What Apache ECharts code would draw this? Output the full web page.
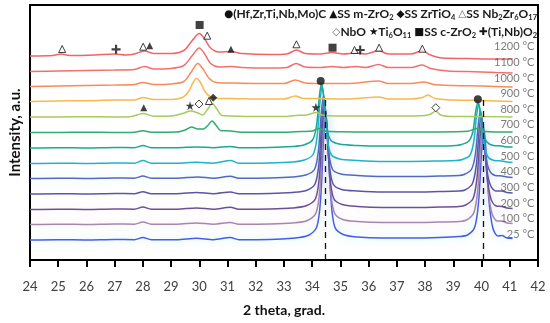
<!DOCTYPE html>
<html><head><meta charset="utf-8">
<script src="https://cdn.jsdelivr.net/npm/echarts@6/dist/echarts.min.js"></script>
<style>html,body{margin:0;padding:0;background:#fff}#c{width:550px;height:323px}</style>
</head><body><div id="c"></div>
<script>
// ---- data ----
const temps = ['25 °C','100 °C','200 °C','300 °C','400 °C','500 °C','600 °C','700 °C','800 °C','900 °C','1000 °C','1100 °C','1200 °C'];
const offsets = [20, 35.5, 50.5, 66, 81.5, 96.5, 112, 127.5, 143, 158.5, 173.5, 188.5, 204];
const xTicks = [24, 42, 1];

const trace25 = [[24,0],[25,0.3],[26,0],[27,0.5],[27.7,0.3],[28.0,2.5],[28.3,0.3],[29.2,0.3],[29.9,1.8],[30.5,0.3],[31.1,2.5],[31.4,0.3],[32.5,0.5],[33.3,1.8],[33.85,4.5],[34.16,13],[34.3,42],[34.4,100],[34.48,128],[34.56,100],[34.66,42],[34.8,13],[35.1,5.5],[35.6,3],[36.5,2],[37.5,2],[38.5,2.5],[39.2,3.5],[39.5,5],[39.76,13],[39.9,40],[40.0,88],[40.08,112],[40.16,88],[40.26,40],[40.4,12],[40.58,4],[40.72,4.5],[40.9,2],[41.1,1.5]];
const trace100 = [[24,0],[25,0.3],[26,0],[27,0.5],[27.7,0.3],[28.0,2.5],[28.3,0.3],[29.2,0.3],[29.9,1.5],[30.5,0.3],[31.1,2],[31.4,0.3],[32.5,0.5],[33.3,1.5],[33.83,4],[34.14,12],[34.28,38],[34.38,90],[34.46,116],[34.54,90],[34.64,38],[34.78,12],[35.08,5],[35.6,3],[36.5,2],[37.5,2],[38.5,2.5],[39.2,3],[39.47,4.5],[39.73,12],[39.87,36],[39.97,79],[40.05,100],[40.13,79],[40.23,36],[40.37,11],[40.55,3.5],[40.72,3.5],[40.9,1.5],[41.1,1]];
const trace200 = [[24,0],[25,0.3],[26,0],[27,0.5],[27.7,0.3],[28.0,2.5],[28.3,0.3],[29.2,0.3],[29.9,1.5],[30.5,0.3],[31.1,2.2],[31.4,0.3],[32.5,0.5],[33.3,1.5],[33.81,4],[34.12,11],[34.26,35],[34.36,82],[34.44,105],[34.52,82],[34.62,35],[34.76,11],[35.06,5],[35.6,3],[36.5,2],[37.5,2],[38.5,2.5],[39.2,3],[39.44,4.5],[39.7,11],[39.84,32],[39.94,70],[40.02,89],[40.1,70],[40.2,32],[40.34,10],[40.52,3.5],[40.72,3],[40.9,1.5],[41.1,1]];
const trace300 = [[24,0],[25,0.3],[26,0],[27,0.5],[27.7,0.3],[28.0,2.3],[28.3,0.3],[29.2,0.3],[29.9,1.5],[30.5,0.3],[31.1,2],[31.4,0.3],[32.5,0.5],[33.3,1.5],[33.79,3.5],[34.1,10],[34.24,31],[34.34,73],[34.42,94],[34.5,73],[34.6,31],[34.74,10],[35.04,4.5],[35.6,3],[36.5,2],[37.5,2],[38.5,2.5],[39.2,3],[39.41,4],[39.67,10],[39.81,28],[39.91,62],[39.99,79],[40.07,62],[40.17,28],[40.31,9],[40.5,3],[40.72,3],[40.9,1.5],[41.1,1]];
const trace400 = [[24,0],[25,0.3],[26,0],[27,0.5],[27.7,0.3],[28.0,2.5],[28.3,0.3],[29.2,0.3],[29.95,1.5],[30.5,0.3],[31.1,2.3],[31.4,0.3],[32.5,0.5],[33.3,1.5],[33.77,3.5],[34.08,9],[34.22,28],[34.32,65],[34.4,83],[34.48,65],[34.58,28],[34.72,9],[35.02,4.5],[35.6,3],[36.5,2],[37.5,2],[38.5,2.5],[39.2,3],[39.38,4],[39.64,9],[39.78,24],[39.88,53],[39.96,68],[40.04,53],[40.14,24],[40.28,8],[40.48,3],[40.72,2.5],[40.9,1.5],[41.1,1]];
const trace500 = [[24,0],[25,0.3],[26,0],[27,0.5],[27.7,0.3],[28.0,3],[28.3,0.3],[29.2,0.3],[29.9,1.2],[30.5,0.3],[31.1,3],[31.4,0.3],[32.5,0.5],[33.3,1.5],[33.72,3.5],[34.03,9],[34.17,26],[34.27,60],[34.35,77],[34.43,60],[34.53,26],[34.67,9],[34.97,4.5],[35.6,3],[36.5,2],[37.5,2],[38.5,2.5],[39.1,3],[39.32,4],[39.58,8],[39.72,21],[39.82,47],[39.9,60],[39.98,47],[40.08,21],[40.22,7],[40.45,3],[40.72,2.5],[40.9,1.5],[41.1,1]];
const trace600 = [[24,0],[25,0.3],[26,0],[27,0.5],[27.7,0.3],[28.0,2.5],[28.3,0.3],[29.2,0.3],[29.9,1],[30.5,0.3],[31.1,1.5],[31.4,0.3],[32.5,0.5],[33.3,1.5],[33.7,3],[34.01,8],[34.15,22],[34.25,51],[34.33,65],[34.41,51],[34.51,22],[34.65,8],[34.95,4],[35.6,2.5],[36.5,2],[37.5,2],[38.5,2],[39.1,2.5],[39.29,3.5],[39.55,7],[39.69,16],[39.79,36],[39.87,46],[39.95,36],[40.05,16],[40.19,6],[40.42,2.5],[40.72,2],[40.9,1],[41.1,1]];
const trace700 = [[24,0],[25,0],[26,0.3],[27,0],[27.7,0.3],[28.0,1.8],[28.3,0.3],[29.2,0.5],[29.5,2.5],[29.72,5.5],[29.95,3.5],[30.15,3.5],[30.3,7],[30.45,11.5],[30.6,7],[30.75,2],[31.1,1.5],[31.5,0.3],[33,0.3],[33.4,0.8],[34.0,1.5],[34.25,4],[34.45,1.5],[35,0.8],[36,0.5],[37,0.5],[38,0.5],[39.5,1.2],[39.85,4],[40.1,1],[41.1,0.5]];
const trace800 = [[24,0],[25,0],[26,0.3],[27,0],[27.6,0.5],[28.0,3.5],[28.4,0.8],[29.0,1],[29.4,3.5],[29.7,6],[29.95,4],[30.12,2],[30.3,8],[30.46,13.5],[30.62,8],[30.8,1.5],[31.1,1],[32,0.5],[33.0,0.5],[33.4,1.5],[33.8,2],[34.15,4.5],[34.35,2],[34.8,1],[36.0,1],[37.0,1],[38.0,1.5],[38.2,3],[38.38,6],[38.55,2],[39,0.5],[40.0,0.5],[41.1,0]];
const trace900 = [[24,0],[25,0.5],[26,0.8],[27,1.5],[27.7,1.5],[28.0,4],[28.4,2],[29.0,2],[29.4,4],[29.62,10],[29.78,19],[29.9,23],[30.02,20],[30.2,10],[30.4,4.5],[30.7,3],[31.1,3],[32,2.5],[33.0,2.5],[33.4,5.5],[33.7,3],[34.2,3],[35,2.5],[35.6,3],[36.35,4.5],[36.7,2.5],[37.5,2.5],[37.9,4],[38.1,6.5],[38.35,3],[39,1.5],[40,1],[41.1,0]];
const trace1000 = [[24,0],[25,0.5],[26,1],[27,1.5],[27.7,2],[28.0,4],[28.4,2],[29.0,2.5],[29.45,5],[29.7,14],[29.95,23],[30.12,18],[30.35,8],[30.6,4],[31.1,3.5],[32,3],[33.0,3],[33.4,6.5],[33.75,3.5],[34.3,3],[35,3],[35.6,3.5],[36.35,5.5],[36.7,3],[37.5,3],[37.95,4.5],[38.3,2],[39,1],[40,0.5],[41.1,-0.5]];
const trace1100 = [[24,0],[25,0.5],[26,1],[27,1.5],[27.7,2],[28.05,5],[28.4,2.5],[29.0,3],[29.45,6],[29.75,16],[30.0,23.5],[30.18,18],[30.4,8],[30.7,4.5],[31.15,5],[31.5,4],[32.5,3.5],[33.1,4],[33.43,8],[33.75,4.5],[34.3,4],[34.7,5],[35.1,4],[35.55,5],[35.9,4],[36.35,7],[36.7,4],[37.5,4],[37.9,6.5],[38.2,3],[38.8,0.5],[39.5,0],[40.5,-1],[41.1,-1.5]];
const trace1200 = [[24,0],[24.8,0.5],[25.1,2],[25.4,0.5],[26.3,1],[27.0,2],[27.4,1],[27.7,2],[28.05,5],[28.4,2.5],[29.0,2.5],[29.45,5.5],[29.75,15.5],[30.0,22.5],[30.18,17.5],[30.4,8],[30.7,4],[31.12,4.5],[31.5,2.5],[32.5,1.5],[33.1,2],[33.45,6],[33.75,2.5],[34.3,2],[34.7,3.5],[35.1,2],[35.55,3],[35.9,2],[36.35,5.5],[36.7,2],[37.5,2],[37.9,5.5],[38.15,1.5],[38.6,-2],[39.5,-2.5],[40.5,-3],[41.1,-3]];
const traces = [trace25, trace100, trace200, trace300, trace400, trace500, trace600, trace700, trace800, trace900, trace1000, trace1100, trace1200];

// phase markers [2theta, height]
const mkCircle = [[34.3,179],[39.87,160.7]];
const mkTriFilled = [[28.24,214.3],[31.12,210.7],[28.03,152.3]];
const mkDiamond = [[30.49,162.3]];
const mkTriEmpty = [[25.14,211],[28.01,213.3],[30.28,224.3],[33.44,215.7],[35.5,210],[36.37,212.3],[37.9,211.3],[30.34,159]];
const mkDiamondEmpty = [[29.99,156],[38.38,152.3]];
const mkStar = [[29.67,154.3],[34.13,152.7]];
const mkSquare = [[30.01,235],[34.72,212.3]];
const mkPlus = [[27.05,210.7],[35.7,210]];
const refLines = [34.47, 40.06];
const refTop = 163;

// ---- styles ----
const colors = ['#4b5be4','#a08aad','#6a5196','#5a55a8','#5667c2','#1db4ca','#17a89b','#30ad6c','#a6cc5c','#f8b84b','#f88a5c','#f2706c','#f0646a'];
const glows = ['rgba(0,210,240,0.35)','rgba(240,150,200,0.35)','rgba(240,160,210,0.25)',null,'rgba(0,210,240,0.25)',null,null,null,null,null,null,null,null];
const FONT = 'Lato, "DejaVu Sans", sans-serif';
const SYMF = '"DejaVu Sans", sans-serif';

const series = [];
traces.forEach((tr, i) => {
  const ls = {color: colors[i], width: 1.5};
  if (glows[i]) { ls.shadowColor = glows[i]; ls.shadowBlur = 10; }
  series.push({
    type: 'line', name: temps[i], smooth: 0.3, showSymbol: false, silent: true,
    data: tr.map(p => [p[0], p[1] + offsets[i]]),
    lineStyle: ls,
    z: 2
  });
});
function mk(data, symbol, size, empty) {
  return {type: 'scatter', data, symbol, symbolSize: size, silent: true, z: 5,
    itemStyle: empty ? {color: '#fff', borderColor: '#111', borderWidth: 1} : {color: '#111'}};
}
series.push(mk(mkCircle, 'circle', 8));
series.push(mk(mkTriFilled, 'triangle', 7));
series.push(mk(mkDiamond, 'diamond', 8));
series.push(mk(mkTriEmpty, 'triangle', 7, true));
series.push(mk(mkDiamondEmpty, 'diamond', 8, true));
series.push(mk(mkStar, 'path://M50,0 L61,35 L98,35 L68,57 L79,91 L50,70 L21,91 L32,57 L2,35 L39,35 Z', 9));
series.push(mk(mkSquare, 'rect', 8));
series.push(mk(mkPlus, 'path://M38,0 H62 V38 H100 V62 H62 V100 H38 V62 H0 V38 H38 Z', 9));
series.push({
  type: 'scatter', symbolSize: 0, silent: true, z: 6,
  data: temps.map((t, i) => ({name: t, value: [41.87, offsets[i] * 1.02 + 5]})),
  label: {show: true, position: 'left', distance: 0, formatter: p => p.name, fontSize: 11, color: '#5a5a5a', fontFamily: FONT},
  markLine: {
    silent: true, symbol: ['none','none'], label: {show: false},
    lineStyle: {type: [6,5], color: '#111', width: 1.3},
    data: refLines.map(x => [{coord: [x, 0]}, {coord: [x, refTop]}])
  }
});

const rich = {
  t: {fontSize: 12, fontFamily: FONT, color: '#1a1a1a', lineHeight: 16, verticalAlign: 'middle'},
  s: {fontSize: 7.5, fontFamily: FONT, color: '#1a1a1a', lineHeight: 9, verticalAlign: 'bottom'},
  b: {fontSize: 10.5, fontFamily: SYMF, color: '#111', lineHeight: 16, verticalAlign: 'middle'},
  g: {fontSize: 10.5, fontFamily: SYMF, color: '#666', lineHeight: 16, verticalAlign: 'middle'}
};
const legend1 = '{b|●}{t|(Hf,Zr,Ti,Nb,Mo)C }{b|▲}{t|SS m-ZrO}{s|2}{t| }{b|◆}{t|SS ZrTiO}{s|4}{t| }{g|△}{t|SS Nb}{s|2}{t|Zr}{s|6}{t|O}{s|17}';
const legend2 = '{g|◇}{t|NbO }{b|★}{t|Ti}{s|6}{t|O}{s|11}{t| }{b|■}{t|SS c-ZrO}{s|2}{t| }{b|✚}{t|(Ti,Nb)O}{s|2}';

const option = {
  animation: false,
  backgroundColor: '#fff',
  title: [
    {text: legend1, right: 13, top: 6, padding: 0, textStyle: {rich}},
    {text: legend2, right: 13, top: 24, padding: 0, textStyle: {rich}}
  ],
  grid: {left: 27, right: 12, top: 5, bottom: 63, show: true, borderColor: '#000', borderWidth: 2, backgroundColor: 'transparent'},
  xAxis: {
    type: 'value', min: xTicks[0], max: xTicks[1], interval: xTicks[2],
    axisLine: {lineStyle: {color: '#000', width: 2}},
    axisTick: {length: 7, lineStyle: {color: '#000', width: 2}},
    axisLabel: {margin: 20, fontSize: 13, color: '#404040', fontFamily: FONT},
    splitLine: {show: false},
    name: '2 theta, grad.', nameLocation: 'middle', nameGap: 43,
    nameTextStyle: {fontWeight: 'bold', fontSize: 14, color: '#111', fontFamily: FONT}
  },
  yAxis: {
    type: 'value', min: 0, max: 255,
    axisLine: {show: false}, axisTick: {show: false}, axisLabel: {show: false}, splitLine: {show: false},
    name: 'Intensity, a.u.', nameLocation: 'middle', nameGap: 7, nameRotate: 90,
    nameTextStyle: {fontWeight: 'bold', fontSize: 15, color: '#111', fontFamily: FONT}
  },
  series
};
const chart = echarts.init(document.getElementById('c'), null, {renderer: 'canvas'});
chart.setOption(option);
</script></body></html>
